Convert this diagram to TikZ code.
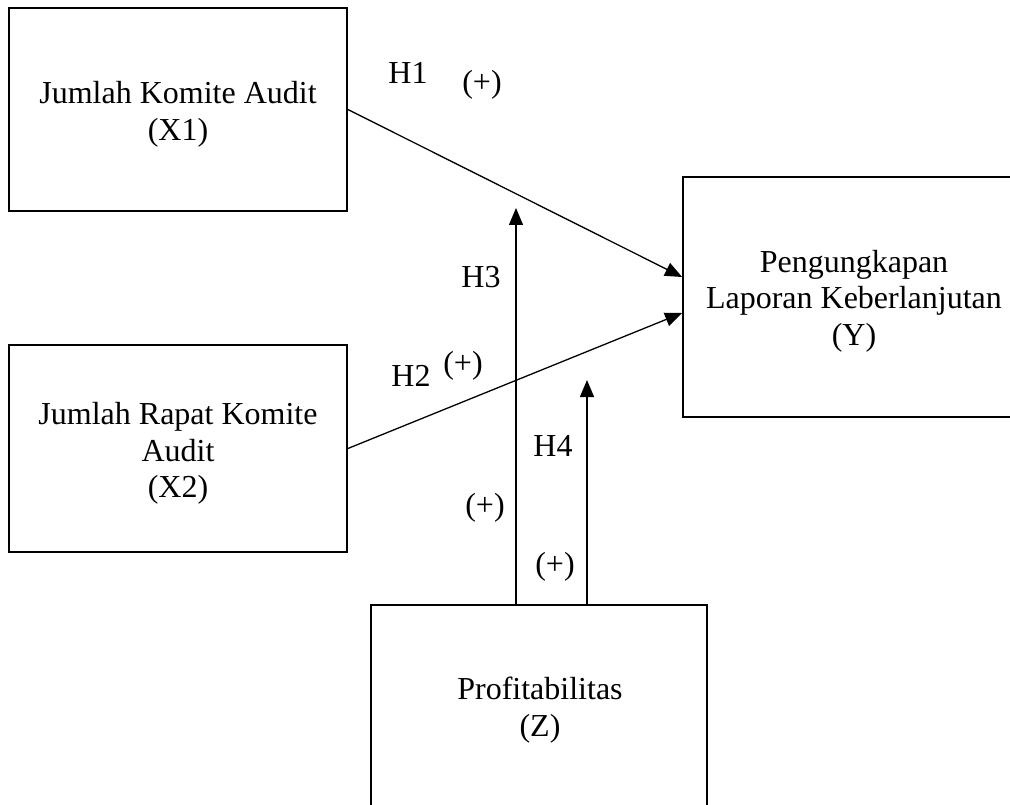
\documentclass[tikz,border=0pt]{standalone}
\usepackage{fontspec}
\setmainfont{Liberation Serif}
\usetikzlibrary{arrows.meta}
\begin{document}
\begin{tikzpicture}[x=1pt,y=-1pt,
  box/.style={draw,line width=1.8pt,minimum width=#1,inner sep=0pt},
  txt/.style={inner sep=0pt,align=center,font=\fontsize{32}{36.5}\selectfont},
  lbl/.style={inner sep=0pt,font=\fontsize{32}{36}\selectfont},
  conn/.style={line width=1.3pt,-{Triangle[length=17pt,width=14pt]}}]
\useasboundingbox (0,0) rectangle (1010,805);
\begin{scope}
\clip (0,0) rectangle (1010,805);
\node[box=338pt,minimum height=203pt] (X1) at (178,109.5) {};
\node[box=338pt,minimum height=207pt] (X2) at (178,448.5) {};
\node[box=342pt,minimum height=240pt] (Y) at (854,297) {};
\node[box=336pt,minimum height=215pt] (Z) at (539,712.5) {};
\end{scope}
\node[txt] (X1t) at ([yshift=-5pt]X1.center) {Jumlah Komite Audit\\(X1)};
\node[txt] (X2t) at ([yshift=-5pt]X2.center) {Jumlah Rapat Komite\\Audit\\(X2)};
\node[txt] (Yt) at ([yshift=-4pt]Y.center) {Pengungkapan\\Laporan Keberlanjutan\\(Y)};
\node[txt] (Zt) at (540,710) {Profitabilitas\\(Z)};
\coordinate (h3end) at (516,208);
\coordinate (h4end) at (587,380);
\draw[conn] (X1.east) -- ([yshift=20pt]Y.west);
\draw[conn] (X2.east) -- ([yshift=-16pt]Y.west);
\draw[conn] ([xshift=-23pt]Z.north) -- (h3end);
\draw[conn] ([xshift=48pt]Z.north) -- (h4end);
\node[lbl] (H1) at (408,73) {H1};
\node[lbl] (p1) at (482,85) {(+)};
\node[lbl] (H3) at (481,277) {H3};
\node[lbl] (H2) at (411,376) {H2};
\node[lbl] (p2) at (463,366) {(+)};
\node[lbl] (H4) at (553,446) {H4};
\node[lbl] (p3) at (485,508) {(+)};
\node[lbl] (p4) at (555,567) {(+)};
\end{tikzpicture}
\end{document}
